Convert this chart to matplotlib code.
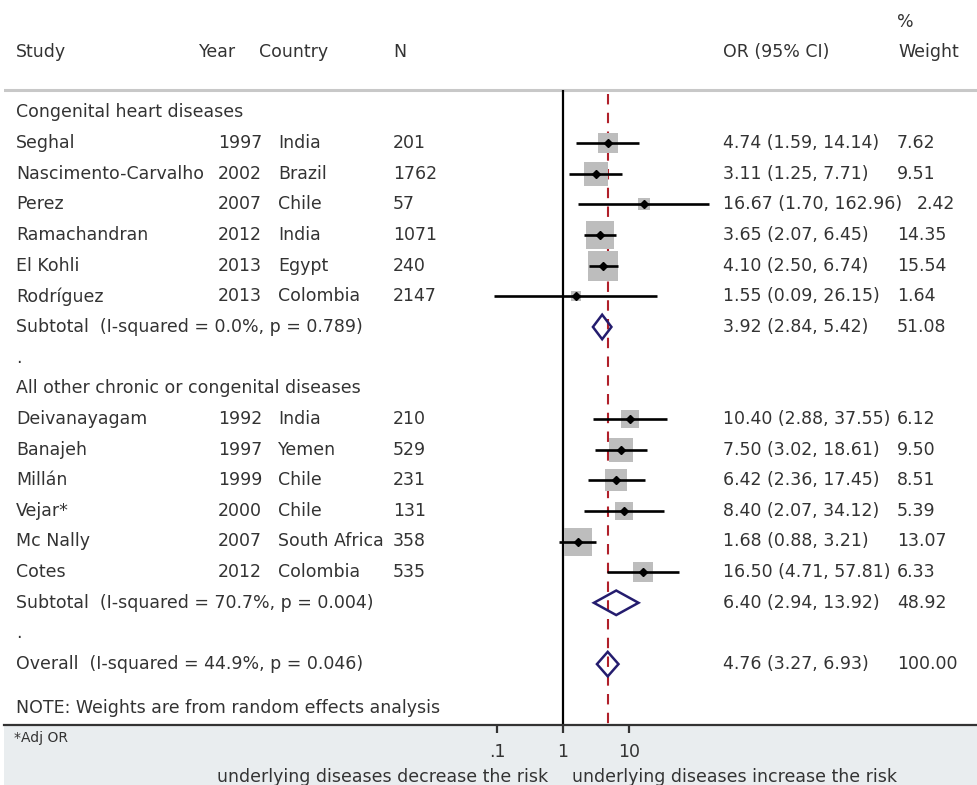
import matplotlib
matplotlib.use("Agg")
import matplotlib.pyplot as plt
import matplotlib.transforms as mtransforms
from matplotlib.patches import Polygon, Rectangle

# ---------------- data ----------------
group1_label = "Congenital heart diseases"
studies1 = ["Seghal", "Nascimento-Carvalho", "Perez", "Ramachandran", "El Kohli", "Rodríguez"]
years1 = [1997, 2002, 2007, 2012, 2013, 2013]
countries1 = ["India", "Brazil", "Chile", "India", "Egypt", "Colombia"]
n1 = [201, 1762, 57, 1071, 240, 2147]
or1 = [4.74, 3.11, 16.67, 3.65, 4.10, 1.55]
lo1 = [1.59, 1.25, 1.70, 2.07, 2.50, 0.09]
hi1 = [14.14, 7.71, 162.96, 6.45, 6.74, 26.15]
w1 = [7.62, 9.51, 2.42, 14.35, 15.54, 1.64]
sub1 = [3.92, 2.84, 5.42, 51.08]
sub1_label = "Subtotal  (I-squared = 0.0%, p = 0.789)"

group2_label = "All other chronic or congenital diseases"
studies2 = ["Deivanayagam", "Banajeh", "Millán", "Vejar*", "Mc Nally", "Cotes"]
years2 = [1992, 1997, 1999, 2000, 2007, 2012]
countries2 = ["India", "Yemen", "Chile", "Chile", "South Africa", "Colombia"]
n2 = [210, 529, 231, 131, 358, 535]
or2 = [10.40, 7.50, 6.42, 8.40, 1.68, 16.50]
lo2 = [2.88, 3.02, 2.36, 2.07, 0.88, 4.71]
hi2 = [37.55, 18.61, 17.45, 34.12, 3.21, 57.81]
w2 = [6.12, 9.50, 8.51, 5.39, 13.07, 6.33]
sub2 = [6.40, 2.94, 13.92, 48.92]
sub2_label = "Subtotal  (I-squared = 70.7%, p = 0.004)"

overall = [4.76, 3.27, 6.93, 100.00]
overall_label = "Overall  (I-squared = 44.9%, p = 0.046)"
note = "NOTE: Weights are from random effects analysis"
footnote = "*Adj OR"
tick_vals = [0.1, 1, 10]
tick_labels = [".1", "1", "10"]
left_label = "underlying diseases decrease the risk"
right_label = "underlying diseases increase the risk"

# ---------------- layout ----------------
W, H = 977, 785
FS = 12.5
TXT = "#333333"
plt.rcParams["font.family"] = ["DejaVu Sans"]

fig = plt.figure(figsize=(W / 100, H / 100), dpi=100, facecolor="white")
renderer = fig.canvas.get_renderer()

ROW0, ROWH = 112.4, 30.65  # pixel y of first row and row height
X1PX, DEC = 563.0, 66.0     # pixel x of OR=1, pixels per decade
AX_BOTTOM_PX = 725.0
AX_LEFT_PX = 4.0

def krow(py):
    return (py - ROW0) / ROWH

ax = fig.add_axes([AX_LEFT_PX / W, 1 - AX_BOTTOM_PX / H, (W - AX_LEFT_PX) / W, AX_BOTTOM_PX / H])
ax.set_xscale("log")
ax.set_xlim(10 ** ((AX_LEFT_PX - X1PX) / DEC), 10 ** ((W - X1PX) / DEC))
ax.set_ylim(krow(AX_BOTTOM_PX), krow(0))
ax.set_facecolor("white")
for s in ["top", "left", "right"]:
    ax.spines[s].set_visible(False)
ax.spines["bottom"].set_color("#333333")
ax.spines["bottom"].set_linewidth(1.6)
ax.set_yticks([])
ax.set_xticks(tick_vals)
ax.set_xticklabels(tick_labels)
ax.xaxis.set_minor_locator(matplotlib.ticker.NullLocator())
ax.tick_params(axis="x", direction="out", length=6, width=1.6, color="#333333",
               labelsize=FS, labelcolor=TXT, pad=7)

# gray band under plot region
fig.patches.append(Rectangle((AX_LEFT_PX / W, 0), 1, 1 - AX_BOTTOM_PX / H, transform=fig.transFigure,
                             facecolor="#e9edef", edgecolor="none", zorder=-1))

tr = mtransforms.blended_transform_factory(fig.transFigure, ax.transData)

def T(xpx, k, s, ha="left", **kw):
    return ax.text(xpx / W, k, s, transform=tr, ha=ha, va="center", fontsize=FS, color=TXT, **kw)

def weight_text(or_txt, k, w):
    # weight column; pushed right only if the OR text runs past the column start
    ext = or_txt.get_window_extent(renderer=renderer)
    x = 897.0 if ext.x1 + 3 < 897.0 else ext.x1 + 15
    T(x, k, f"{w:.2f}")

# header
T(16, krow(52), "Study")
T(199, krow(52), "Year")
T(259, krow(52), "Country")
T(393, krow(52), "N")
T(723, krow(52), "OR (95% CI)")
T(897, krow(22), "%")
T(898, krow(52), "Weight")
ax.axhline(krow(90), color="#c8c8c8", lw=2.2, zorder=1)

# reference lines
top_k = krow(90)
ax.vlines(1, top_k, krow(AX_BOTTOM_PX), color="black", lw=1.6, zorder=2)
ax.vlines(overall[0], krow(94), krow(AX_BOTTOM_PX), color="#b0202a", lw=1.5,
          linestyles=(0, (5, 4)), zorder=2)

BOX = 29.9  # scatter size per % weight

def study_rows(start, studies, years, countries, ns, ors, los, his, ws):
    for i in range(len(studies)):
        k = start + i
        T(16, k, studies[i])
        T(262, k, str(years[i]), ha="right")
        T(278, k, countries[i])
        T(393, k, str(ns[i]))
        t = T(723, k, f"{ors[i]:.2f} ({los[i]:.2f}, {his[i]:.2f})")
        weight_text(t, k, ws[i])
        ax.scatter([ors[i]], [k], s=BOX * ws[i], marker="s", color="#bdbdbd", lw=0, zorder=3)
        ax.plot([los[i], his[i]], [k, k], color="black", lw=1.9, solid_capstyle="butt", zorder=4)
        ax.plot([ors[i]], [k], marker="D", ms=4.5, color="black", zorder=5)

def pooled(k, vals, label):
    est, lo, hi, w = vals
    T(16, k, label)
    t = T(723, k, f"{est:.2f} ({lo:.2f}, {hi:.2f})")
    weight_text(t, k, w)
    h = 0.4
    ax.add_patch(Polygon([(lo, k), (est, k - h), (hi, k), (est, k + h)], closed=True,
                         fill=False, edgecolor="#241c6e", lw=1.8, zorder=5))

T(16, 0, group1_label)
study_rows(1, studies1, years1, countries1, n1, or1, lo1, hi1, w1)
pooled(7, sub1, sub1_label)
T(16, 8, ".")
T(16, 9, group2_label)
study_rows(10, studies2, years2, countries2, n2, or2, lo2, hi2, w2)
pooled(16, sub2, sub2_label)
T(16, 17, ".")
pooled(18, overall, overall_label)
T(16, krow(708), note)

# below the axis
fig.text(14 / W, 1 - 738 / H, footnote, ha="left", va="center", fontsize=10, color=TXT)
fig.text(548 / W, 1 - 777 / H, left_label, ha="right", va="center", fontsize=FS, color=TXT)
fig.text(572 / W, 1 - 777 / H, right_label, ha="left", va="center", fontsize=FS, color=TXT)

fig.savefig("out.png", dpi=100, facecolor="white")
